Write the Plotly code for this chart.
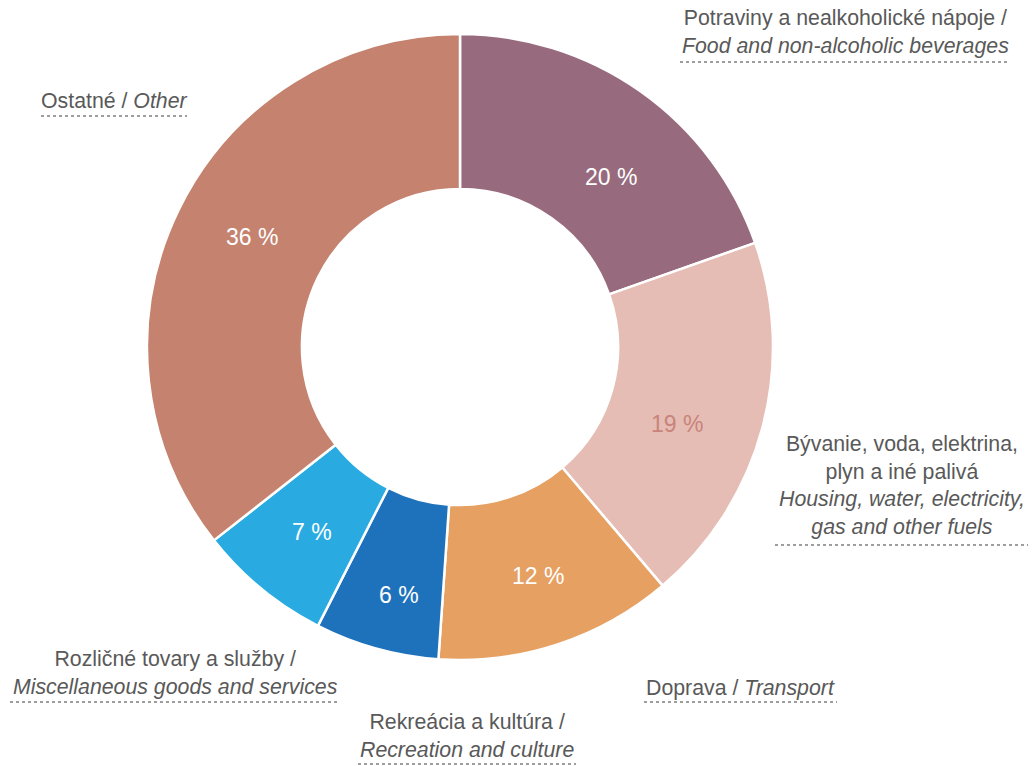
import math
import plotly.graph_objects as go

W, H = 1032, 766

categories_sk = ["Potraviny a nealkoholické nápoje", "Bývanie, voda, elektrina, plyn a iné palivá",
                 "Doprava", "Rekreácia a kultúra", "Rozličné tovary a služby", "Ostatné"]
categories_en = ["Food and non-alcoholic beverages", "Housing, water, electricity, gas and other fuels",
                 "Transport", "Recreation and culture", "Miscellaneous goods and services", "Other"]
values = [19.6, 19.2, 12.3, 6.4, 6.9, 35.6]
colors = ["#976b7d", "#e6bdb5", "#e5a062", "#1e72bb", "#29abe2", "#c4826f"]
text_colors = ["#ffffff", "#c8847a", "#ffffff", "#ffffff", "#ffffff", "#ffffff"]

label_texts = [
    "Potraviny a nealkoholické nápoje /<br><i>Food and non-alcoholic beverages</i>",
    "Bývanie, voda, elektrina,<br>plyn a iné palivá<br><i>Housing, water, electricity,</i><br><i>gas and other fuels</i>",
    "Doprava / <i>Transport</i>",
    "Rekreácia a kultúra /<br><i>Recreation and culture</i>",
    "Rozličné tovary a služby /<br><i>Miscellaneous goods and services</i>",
    "Ostatné / <i>Other</i>",
]

FONT = "Arial"

def px(x):
    return x / W

def py(y):
    return 1 - y / H

cx, cy, R = 460, 347, 313
HOLE = 0.505
# small pixel nudges of the percentage labels from the ring-segment middle (style)
pct_nudges = [(16, 20), (-8, 16), (5, 7), (1, 23), (0, 5), (2, -8)]

fig = go.Figure(go.Pie(
    labels=categories_en,
    values=values,
    sort=False,
    direction="clockwise",
    rotation=0,
    hole=HOLE,
    marker=dict(colors=colors, line=dict(color="#ffffff", width=2.5)),
    textinfo="none",
    hoverinfo="label+percent",
    domain=dict(x=[px(cx - R), px(cx + R)], y=[py(cy + R), py(cy - R)]),
    showlegend=False,
))

annotations = []
shapes = []

# percentage labels near the middle of each ring segment, derived from the values
total = sum(values)
rmid = R * (1 + HOLE) / 2 * 0.99
cum = 0
for v, tc, (ndx, ndy) in zip(values, text_colors, pct_nudges):
    ang = 2 * math.pi * (cum + v / 2) / total
    cum += v
    tx = cx + rmid * math.sin(ang) + ndx
    ty = cy - rmid * math.cos(ang) + ndy
    annotations.append(dict(
        text=f"{round(100 * v / total)} %", x=px(tx), y=py(ty), xref="paper", yref="paper",
        xanchor="center", yanchor="middle", showarrow=False,
        font=dict(size=23, color=tc, family=FONT),
    ))

# category label placements (centre of text block) and underline extents, in pixels
label_pos = [(845, 32), (902, 486), (740, 688), (467, 736), (175, 673), (114, 101)]
underlines = [(680, 1008, 62), (775, 1028, 545), (644, 837, 702), (358, 576, 764), (10, 338, 702), (41, 187, 116)]

for t, (lx, ly), (ux0, ux1, uy) in zip(label_texts, label_pos, underlines):
    annotations.append(dict(
        text=t, x=px(lx), y=py(ly), xref="paper", yref="paper",
        xanchor="center", yanchor="middle", align="center", showarrow=False,
        font=dict(size=21.3, color="#595959", family=FONT),
    ))
    shapes.append(dict(
        type="line", xref="paper", yref="paper",
        x0=px(ux0), x1=px(ux1), y0=py(uy), y1=py(uy),
        line=dict(color="#7f7f7f", width=1.5, dash="dot"),
    ))

fig.update_layout(
    width=W, height=H,
    margin=dict(l=0, r=0, t=0, b=0),
    paper_bgcolor="#ffffff", plot_bgcolor="#ffffff",
    annotations=annotations, shapes=shapes,
    font=dict(family=FONT),
)

fig.write_html("out.html", config={"displayModeBar": False},
               post_script="document.body.style.margin='0px';document.body.style.overflow='hidden';")
